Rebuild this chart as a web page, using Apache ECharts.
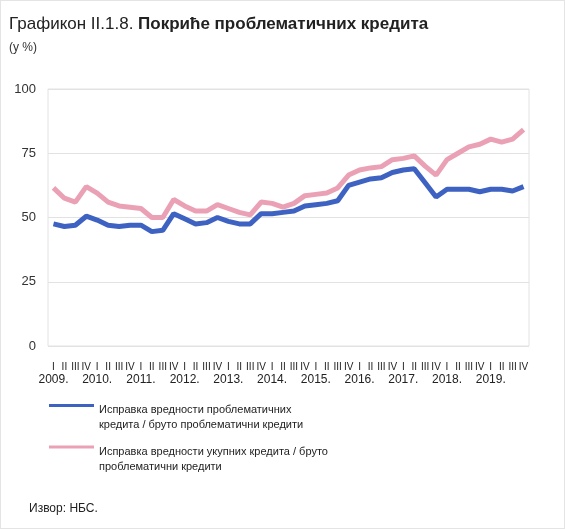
<!DOCTYPE html>
<html>
<head>
<meta charset="utf-8">
<script src="https://cdn.jsdelivr.net/npm/echarts@6/dist/echarts.min.js"></script>
<style>
  html, body { margin: 0; padding: 0; background: #fff; }
  #chart { width: 565px; height: 529px; box-sizing: border-box; border: 1px solid #e4e4e4; }
</style>
</head>
<body>
<div id="chart"></div>
<script>
// ---- data ----
var years = ['2009.', '2010.', '2011.', '2012.', '2013.', '2014.', '2015.', '2016.', '2017.', '2018.', '2019.'];
var quarters = ['I', 'II', 'III', 'IV'];
var problemCoverage = [
  47.5, 46.5, 47, 50.5,   49, 47, 46.5, 47,   47, 44.5, 45, 51.5,   49.5, 47.5, 48, 50,
  48.5, 47.5, 47.5, 51.5,   51.5, 52, 52.5, 54.5,   55, 55.5, 56.5, 62.5,   63.8, 65, 65.5, 67.5,
  68.5, 69, 63.5, 58,   61, 61, 61, 60,   61, 61, 60.3, 62
];
var totalCoverage = [
  61.5, 57.5, 56, 62,   59.5, 56, 54.5, 54,   53.5, 50, 50, 57,   54.5, 52.5, 52.5, 55,
  53.5, 52, 51, 56,   55.5, 54, 55.5, 58.5,   59, 59.5, 61.5, 66.5,   68.5, 69.3, 69.8, 72.5,
  73, 74, 70, 66.5,   72.5, 75, 77.5, 78.5,   80.5, 79.3, 80.5, 84.2
];
var yTicks = [0, 25, 50, 75, 100];
var seriesNames = [
  'Исправка вредности проблематичних\nкредита / бруто проблематични кредити',
  'Исправка вредности укупних кредита / бруто\nпроблематични кредити'
];

// categories built from years and quarters
var categories = [];
years.forEach(function (y) {
  quarters.forEach(function (q) { categories.push(y + '|' + q); });
});

var chart = echarts.init(document.getElementById('chart'));
var FONT = '"Liberation Sans", Arial, sans-serif';

chart.setOption({
  animation: false,
  textStyle: { fontFamily: FONT },
  title: [
    {
      left: 3, top: 10,
      text: '{r|Графикон II.1.8. }{b|Покриће проблематичних кредита}',
      textStyle: {
        fontWeight: 'normal',
        rich: {
          r: { fontSize: 17, fontWeight: 'normal', color: '#222', fontFamily: FONT },
          b: { fontSize: 17, fontWeight: 'bold', color: '#222', fontFamily: FONT }
        }
      }
    },
    {
      left: 3, top: 36,
      text: '(у %)',
      textStyle: { fontSize: 12, fontWeight: 'normal', color: '#333', fontFamily: FONT }
    },
    {
      left: 23, top: 497,
      text: 'Извор: НБС.',
      textStyle: { fontSize: 12, fontWeight: 'normal', color: '#222', fontFamily: FONT }
    }
  ],
  grid: {
    left: 47, right: 35, top: 88, bottom: 182,
    show: true, borderColor: '#e2e2e2', borderWidth: 1
  },
  legend: {
    orient: 'vertical',
    left: 48, top: 384, padding: 0,
    itemWidth: 45, itemHeight: 3, itemGap: -4,
    icon: 'rect',
    data: seriesNames,
    formatter: function (name) {
      var lines = name.split('\n');
      return '{s| }\n' + lines.map(function (l) { return '{t|' + l + '}'; }).join('\n');
    },
    textStyle: {
      fontFamily: FONT,
      rich: {
        s: { fontSize: 11, lineHeight: 24 },
        t: { fontSize: 11, color: '#222', lineHeight: 15, fontFamily: FONT }
      }
    }
  },
  xAxis: {
    type: 'category',
    data: categories,
    boundaryGap: true,
    axisLine: { show: false },
    axisTick: { show: false },
    axisLabel: {
      interval: 0,
      margin: 15,
      fontFamily: FONT,
      formatter: function (v) {
        var p = v.split('|');
        if (p[1] === 'I') return '{q|I}\n{y|' + p[0] + '}';
        return '{q|' + p[1] + '}';
      },
      rich: {
        q: { fontSize: 10, color: '#222', lineHeight: 12, fontFamily: FONT },
        y: { fontSize: 12, color: '#222', lineHeight: 14, fontFamily: FONT }
      }
    }
  },
  yAxis: {
    type: 'value',
    min: yTicks[0], max: yTicks[yTicks.length - 1], interval: 25,
    axisLine: { show: false },
    axisTick: { show: false },
    splitLine: { lineStyle: { color: '#e2e2e2', width: 1 } },
    axisLabel: { fontSize: 13, color: '#333', margin: 12, fontFamily: FONT }
  },
  series: [
    {
      name: seriesNames[0], type: 'line', data: problemCoverage,
      symbol: 'none', lineStyle: { color: '#3E62C2', width: 5 }, itemStyle: { color: '#3E62C2' }
    },
    {
      name: seriesNames[1], type: 'line', data: totalCoverage,
      symbol: 'none', lineStyle: { color: '#EBA1B5', width: 5 }, itemStyle: { color: '#EBA1B5' }
    }
  ]
});
</script>
</body>
</html>
